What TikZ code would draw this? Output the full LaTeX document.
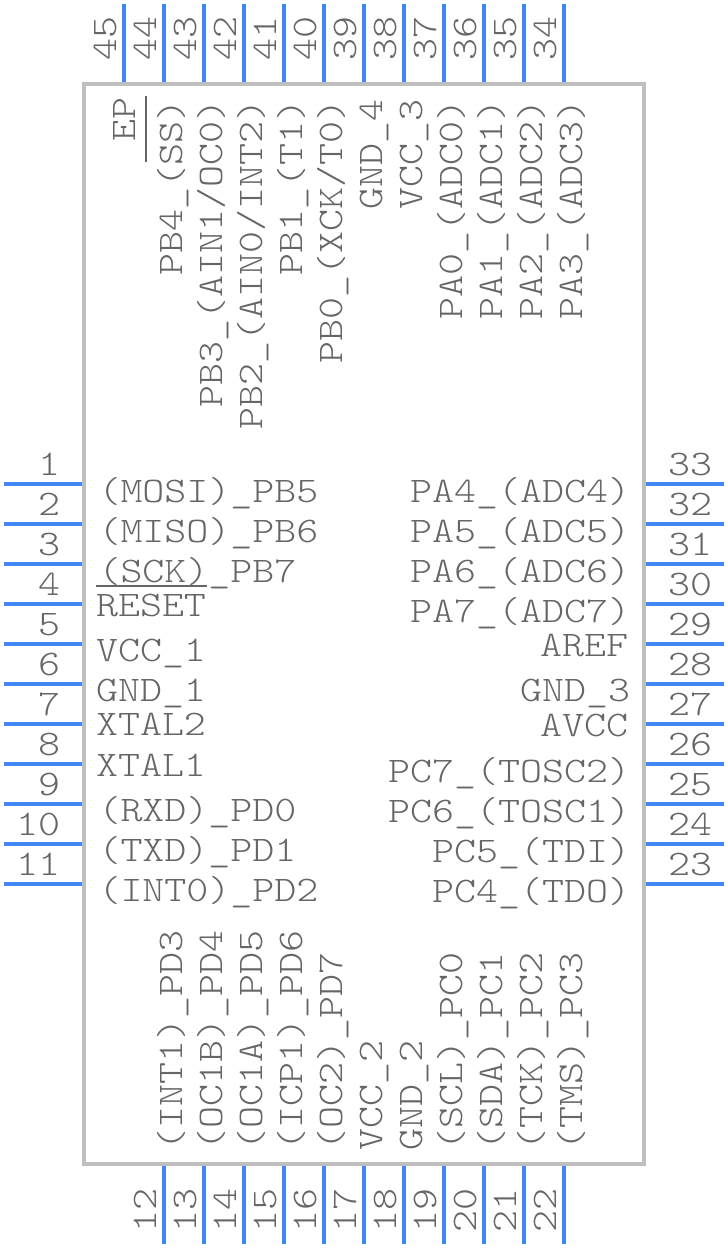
\documentclass[tikz,border=0pt]{standalone}
\usepackage{fontspec}
\setmonofont[FakeStretch=1.164]{Latin Modern Mono Light}
\definecolor{pinblue}{HTML}{4287F5}
\definecolor{chipgray}{HTML}{BFBFBF}
\definecolor{labgray}{HTML}{666666}
\tikzset{
  x=1pt,y=-1pt,
  pinline/.style={draw=pinblue,line width=4pt},
  chipbox/.style={draw=chipgray,line width=4pt,fill=none,rectangle,inner sep=0pt,outer sep=0pt,minimum width=560pt,minimum height=1080pt},
  lab/.style={inner sep=0pt,outer sep=0pt,text=labgray,font=\ttfamily\fontsize{36}{36}\selectfont},
  barline/.style={draw=labgray,line width=2pt},
  upw/.style={lab,rotate=90,anchor=base west},
  upe/.style={lab,rotate=90,anchor=base east}
}
\begin{document}
\begin{tikzpicture}
\useasboundingbox (0,0) rectangle (728,1248);
% pins
\foreach \i in {0,...,10}{
  \pgfmathtruncatemacro{\a}{\i+1}
  \pgfmathtruncatemacro{\b}{33-\i}
  \pgfmathtruncatemacro{\c}{12+\i}
  \pgfmathsetmacro{\py}{484+40*\i}
  \pgfmathsetmacro{\px}{164+40*\i}
  \coordinate (la\a) at (4,\py); \coordinate (lb\a) at (84,\py);
  \draw[pinline] (la\a) -- (lb\a);
  \node[lab,anchor=base east] (nl\a) at (60,\py-9) {\a};
  \coordinate (ra\b) at (644,\py); \coordinate (rb\b) at (724,\py);
  \draw[pinline] (ra\b) -- (rb\b);
  \node[lab,anchor=base] (nr\b) at (690,\py-9) {\b};
  \coordinate (ba\c) at (\px,1164); \coordinate (bb\c) at (\px,1244);
  \draw[pinline] (ba\c) -- (bb\c);
  \node[upw] (nb\c) at (\px-8,1232) {\c};
}
\foreach \i in {0,...,11}{
  \pgfmathtruncatemacro{\d}{45-\i}
  \pgfmathsetmacro{\px}{124+40*\i}
  \coordinate (ta\d) at (\px,4); \coordinate (tb\d) at (\px,84);
  \draw[pinline] (ta\d) -- (tb\d);
  \node[upe] (nt\d) at (\px-8,16) {\d};
}
\node[chipbox] (chip) at (364,624) {};
% left labels
\foreach \n/\x/\y/\t in {1/98.5/502/{(MOSI)\_PB5},2/98.5/542/{(MISO)\_PB6},3/98.5/582/{(SCK)\_PB7},4/96/616/{RESET},5/96/661/{VCC\_1},6/96/701/{GND\_1},7/96/735/{XTAL2},8/96/776/{XTAL1},9/98.5/821/{(RXD)\_PD0},10/98.5/861/{(TXD)\_PD1},11/98.5/901/{(INT0)\_PD2}}{
  \node[lab,anchor=base west] (ll\n) at (\x,\y) {\t};
}
% right labels
\foreach \n/\x/\y/\t in {33/630/502/{PA4\_(ADC4)},32/630/542/{PA5\_(ADC5)},31/630/582/{PA6\_(ADC6)},30/630/622/{PA7\_(ADC7)},29/628/656/{AREF},28/630/701/{GND\_3},27/628/736/{AVCC},26/630/782/{PC7\_(TOSC2)},25/630/822/{PC6\_(TOSC1)},24/630/862/{PC5\_(TDI)},23/630/902/{PC4\_(TDO)}}{
  \node[lab,anchor=base east] (lr\n) at (\x,\y) {\t};
}
% top labels
\node[upe] (lt45) at (135,97) {EP};
\foreach \n/\x/\t in {44/182/{PB4\_(SS)},43/222/{PB3\_(AIN1/OC0)},42/262/{PB2\_(AIN0/INT2)},41/302/{PB1\_(T1)},40/342/{PB0\_(XCK/T0)},39/382/{GND\_4},38/422/{VCC\_3},37/462/{PA0\_(ADC0)},36/502/{PA1\_(ADC1)},35/542/{PA2\_(ADC2)},34/582/{PA3\_(ADC3)}}{
  \node[upe] (lt\n) at (\x,99) {\t};
}
% bottom labels
\foreach \n/\x/\t in {12/182/{(INT1)\_PD3},13/222/{(OC1B)\_PD4},14/262/{(OC1A)\_PD5},15/302/{(ICP1)\_PD6},16/342/{(OC2)\_PD7},17/382/{VCC\_2},18/422/{GND\_2},19/462/{(SCL)\_PC0},20/502/{(SDA)\_PC1},21/542/{(TCK)\_PC2},22/582/{(TMS)\_PC3}}{
  \node[upw] (lb\n) at (\x,1150) {\t};
}
% overlines
\coordinate (ep1) at (146,96); \coordinate (ep2) at (146,162);
\draw[barline] (ep1) -- (ep2);
\coordinate (rs1) at (96,586); \coordinate (rs2) at (207,586);
\draw[barline] (rs1) -- (rs2);
\end{tikzpicture}
\end{document}
